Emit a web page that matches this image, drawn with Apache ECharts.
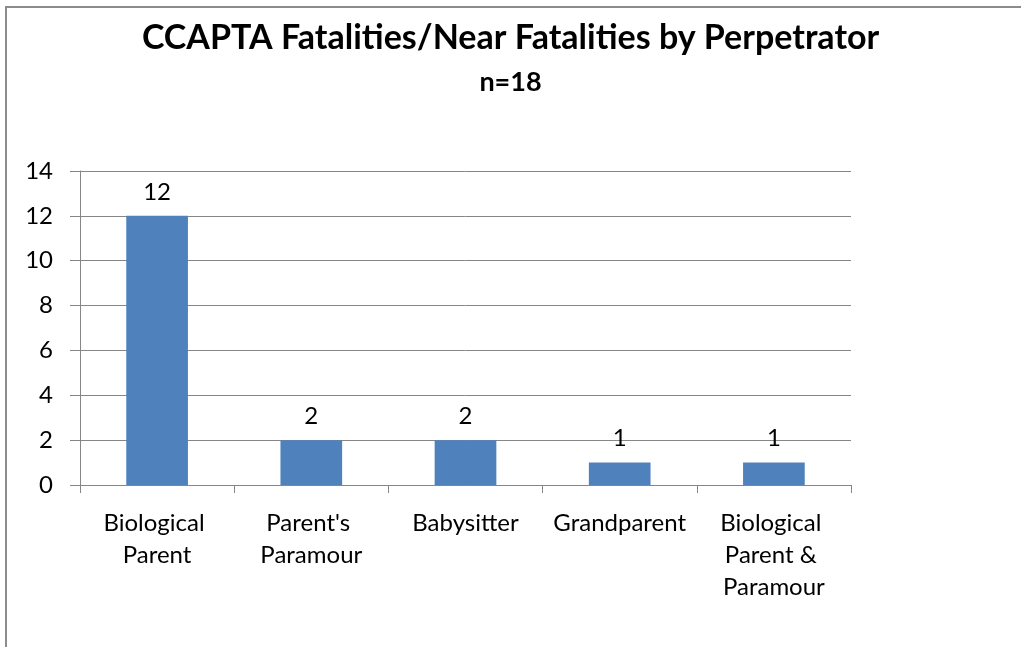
<!DOCTYPE html>
<html>
<head>
<meta charset="utf-8">
<script src="https://cdn.jsdelivr.net/npm/echarts@6/dist/echarts.min.js"></script>
<style>
  html, body { margin: 0; padding: 0; background: #fff; }
  #chart { width: 1021px; height: 647px; }
</style>
</head>
<body>
<div id="chart"></div>
<script>
const categories = ['Biological Parent', "Parent's Paramour", 'Babysitter', 'Grandparent', 'Biological Parent & Paramour']
const counts = [12, 2, 2, 1, 1]
const titleText = 'CCAPTA Fatalities/Near Fatalities by Perpetrator'
const subText = 'n=18'

const font = 'Lato, "Open Sans", sans-serif'
const axisColor = '#868686'

const chart = echarts.init(document.getElementById('chart'))

chart.setOption({
  animation: false,
  backgroundColor: '#fff',
  graphic: [{
    type: 'rect',
    shape: { x: 6, y: 7, width: 1100, height: 700 },
    style: { fill: 'none', stroke: '#8c8c8c', lineWidth: 2 }
  }],
  title: [
    {
      text: titleText,
      left: 'center',
      top: 16,
      textStyle: { fontFamily: font, fontSize: 34, fontWeight: 'bold', color: '#000' }
    },
    {
      text: subText,
      left: 'center',
      top: 64,
      textStyle: { fontFamily: font, fontSize: 27, fontWeight: 'bold', color: '#000' }
    }
  ],
  grid: { left: 80, right: 170, top: 171, bottom: 162 },
  xAxis: {
    type: 'category',
    data: categories,
    axisLine: { lineStyle: { color: axisColor, width: 1 } },
    axisTick: { show: true, length: 8, lineStyle: { color: axisColor } },
    axisLabel: {
      fontFamily: font,
      fontSize: 24,
      color: '#000',
      margin: 22,
      lineHeight: 32,
      width: 145,
      overflow: 'break',
      interval: 0
    }
  },
  yAxis: {
    type: 'value',
    min: 0,
    max: 14,
    interval: 2,
    axisLine: { show: true, lineStyle: { color: axisColor, width: 1 } },
    axisTick: { show: true, length: 10, lineStyle: { color: axisColor } },
    splitLine: { lineStyle: { color: axisColor, width: 1 } },
    axisLabel: { fontFamily: font, fontSize: 24, color: '#000', margin: 27 }
  },
  series: [{
    type: 'bar',
    data: counts,
    barCategoryGap: '60%',
    itemStyle: { color: '#4F81BD' },
    label: {
      show: true,
      position: 'top',
      distance: 12,
      fontFamily: font,
      fontSize: 24,
      color: '#000'
    }
  }]
})
</script>
</body>
</html>
